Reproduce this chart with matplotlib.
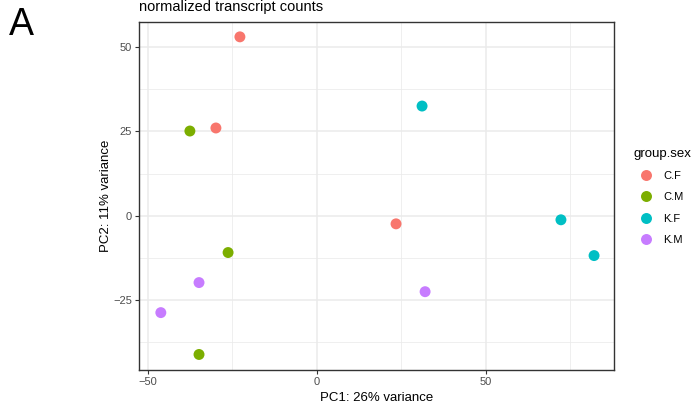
import matplotlib
matplotlib.use("Agg")
import matplotlib.pyplot as plt
from matplotlib.lines import Line2D
from matplotlib.ticker import MultipleLocator

plt.rcParams['font.family'] = ['Liberation Sans', 'DejaVu Sans']

groups = ["C.F", "C.M", "K.F", "K.M"]
colors = ["#F8766D", "#7CAE00", "#00BFC4", "#C77CFF"]
pc1 = {
    "C.F": [-22.8, -29.9, 23.4],
    "C.M": [-37.6, -26.3, -34.9],
    "K.F": [31.1, 72.2, 82.0],
    "K.M": [-34.9, -46.2, 32.0],
}
pc2 = {
    "C.F": [53.0, 26.0, -2.4],
    "C.M": [25.1, -10.9, -41.1],
    "K.F": [32.5, -1.2, -11.8],
    "K.M": [-19.8, -28.7, -22.5],
}

W, H = 696, 403
fig = plt.figure(figsize=(W / 100, H / 100), dpi=100)
ax = fig.add_axes([139 / W, 1 - 370 / H, (614 - 139) / W, (370 - 22) / H])

for g, c in zip(groups, colors):
    ax.scatter(pc1[g], pc2[g], s=62, color=c, edgecolors='none', zorder=3)

ax.set_xlim(-52.66, 87.9)
ax.set_ylim(-45.7, 57.4)
ax.xaxis.set_major_locator(MultipleLocator(50))
ax.xaxis.set_minor_locator(MultipleLocator(25))
ax.yaxis.set_major_locator(MultipleLocator(25))
ax.yaxis.set_minor_locator(MultipleLocator(12.5))
ax.grid(which='major', color='#EBEBEB', linewidth=1.1, zorder=0)
ax.grid(which='minor', color='#EBEBEB', linewidth=0.55, zorder=0)
ax.set_axisbelow(True)
ax.tick_params(which='minor', length=0)
ax.tick_params(which='major', length=3, width=0.8, color='#333333',
               labelsize=8, labelcolor='#4D4D4D', pad=2)
for s in ax.spines.values():
    s.set_color('#333333')
    s.set_linewidth(1.0)

ax.set_xlabel("PC1: 26% variance", fontsize=9.5, labelpad=3.3)
ax.set_ylabel("PC2: 11% variance", fontsize=9.5, labelpad=0.6)

fig.text(139 / W, 1 - 11 / H, "normalized transcript counts", fontsize=10.5,
         ha='left', va='baseline')
fig.text(9 / W, 1 - 35 / H, "A", fontsize=27, ha='left', va='baseline')

handles = [Line2D([], [], marker='o', linestyle='none', markersize=7.9,
                  markerfacecolor=c, markeredgecolor='none') for c in colors]
leg = fig.legend(handles, groups, title="group.sex", loc='upper left',
                 bbox_to_anchor=(634 / W, 1 - 147.5 / H), frameon=False,
                 fontsize=8, title_fontsize=9.5, labelspacing=1.02,
                 handletextpad=0.45, borderpad=0, borderaxespad=0,
                 handlelength=2.16, alignment='left')

fig.savefig("out.png", dpi=100)
